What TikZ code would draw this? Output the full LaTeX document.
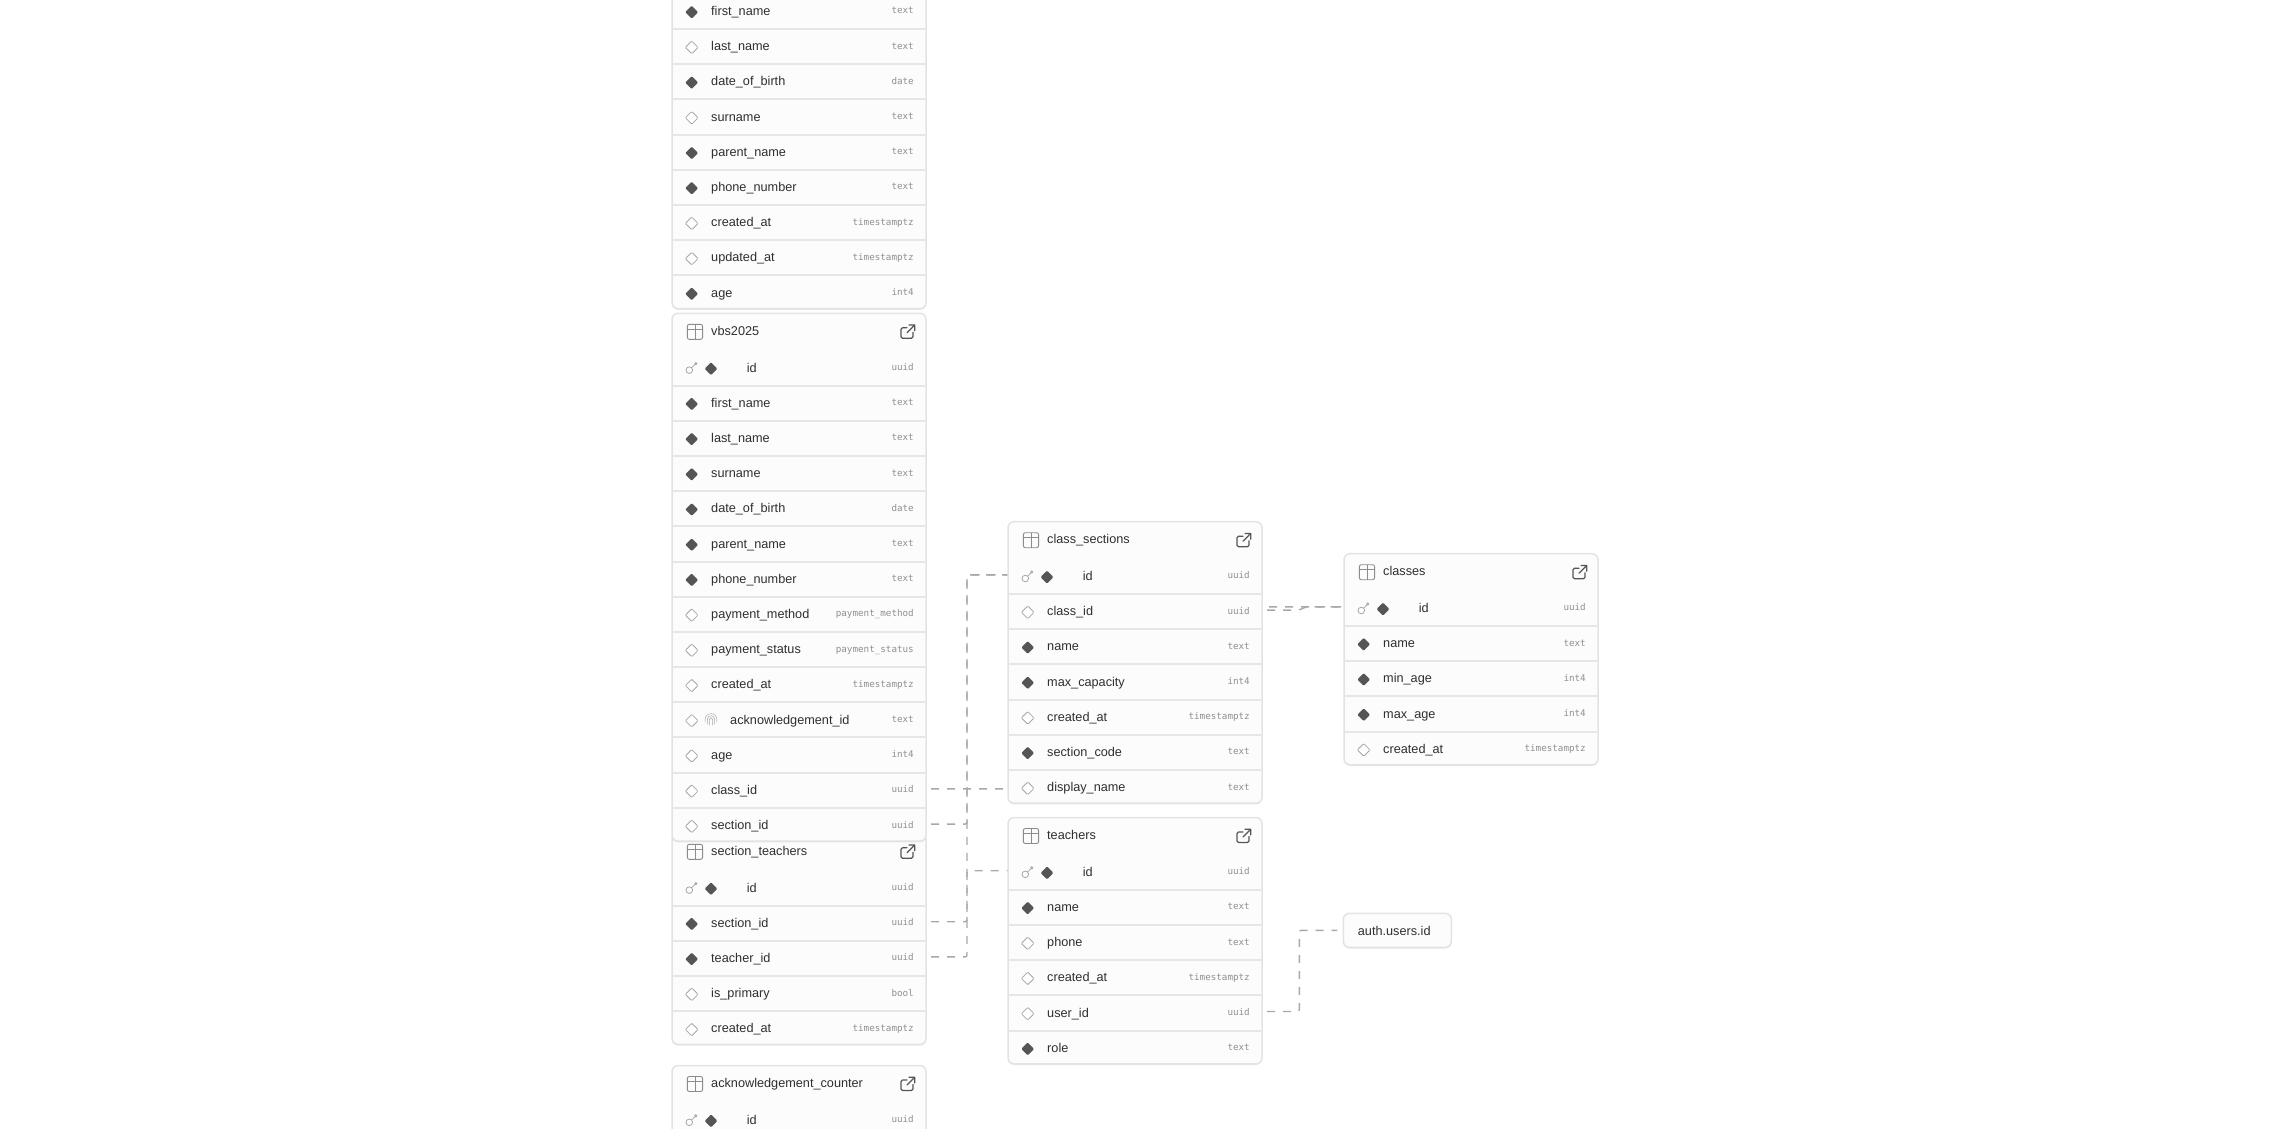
\documentclass[tikz,border=0pt]{standalone}
\usepackage{fontspec}
\setmainfont{Liberation Sans}
\newfontfamily\monoface{DejaVu Sans Mono}
\usetikzlibrary{shapes.geometric,shadows}
\pgfdeclarelayer{bg}
\pgfsetlayers{bg,main}
\definecolor{boxfill}{HTML}{FCFCFC}
\definecolor{boxline}{HTML}{E3E3E3}
\definecolor{rowline}{HTML}{E6E6E6}
\definecolor{labelink}{HTML}{2F2F2F}
\definecolor{typeink}{HTML}{8F8F8F}
\definecolor{diaink}{HTML}{555555}
\definecolor{diaopen}{HTML}{A6A6A6}
\definecolor{iconink}{HTML}{8C8C8C}
\definecolor{fkink}{HTML}{A8A8A8}
\catcode`\_=12
\tikzset{
  tablebox/.style={draw=boxline,line width=1.5pt,fill=boxfill,rounded corners=6pt,inner sep=0pt,outer sep=0pt,minimum width=254pt,
    general shadow={shadow xshift=0pt,shadow yshift=-1.2pt,fill=black,opacity=.09}},
  rowanchor/.style={inner sep=0pt,outer sep=0pt,minimum width=254pt,minimum height=35.2pt},
  rowsep/.style={draw=rowline,line width=1.6pt},
  collabel/.style={inner sep=0pt,text=labelink,font=\fontsize{12.7}{15}\selectfont,anchor=base west},
  coltype/.style={inner sep=0pt,text=typeink,font=\monoface\fontsize{9.25}{11}\selectfont,anchor=base east},
  diafull/.style={diamond,aspect=1,minimum width=13pt,minimum height=13pt,inner sep=0pt,fill=diaink,rounded corners=1pt},
  diahollow/.style={diamond,aspect=1,minimum width=13pt,minimum height=13pt,inner sep=0pt,draw=diaopen,line width=.8pt,fill=white,rounded corners=1pt},
  iconline/.style={draw=iconink,line width=.9pt},
  exportline/.style={draw=diaink,line width=1.2pt,line cap=round,line join=round},
  fk/.style={draw=fkink,line width=1.4pt,dash pattern=on 8pt off 8pt,dash phase=11pt,rounded corners=2pt}
}
\newcommand\dbtable[6]{%
  \pgfmathsetmacro\boxh{37+35.2*(#5-1)+33.3}%
  \node[tablebox,anchor=north west,minimum height=\boxh pt] (#1) at (#2,#3) {};
  \if\relax\detokenize{#4}\relax\else
    \node[collabel] (#1-title) at ({#2+39},{#3+22}) {#4};
    \draw[iconline,rounded corners=2pt,shift={({#2+15.3},{#3+11})}] (0,0) rectangle (15.3,15);
    \draw[iconline,shift={({#2+15.3},{#3+11})}] (0,5) -- (15.3,5) (7.7,0) -- (7.7,15);
    \draw[exportline,shift={({#2+229},{#3+11})},rounded corners=1.5pt] (6,3.5) -- (0,3.5) -- (0,14) -- (12,14) -- (12,8);
    \draw[exportline,shift={({#2+229},{#3+11})}] (6,8.5) -- (13.7,.7) (8,.7) -- (13.7,.7) -- (13.7,6.5);
  \fi
  \foreach \cn/\ct/\ck [count=\i] in {#6}{%
    \pgfmathsetmacro\cy{#3+37+35.2*(\i-1)+17.6}%
    \pgfmathsetmacro\dx{#2+19.7}%
    \pgfmathsetmacro\lx{#2+39}%
    \ifcase\ck\relax
      \node[diahollow] (#1-\cn-mark) at (\dx,{\cy+.8}) {};
    \or
      \node[diafull] (#1-\cn-mark) at (\dx,{\cy+.8}) {};
    \or
      \node[diafull] (#1-\cn-mark) at ({#2+39},{\cy+.8}) {};
      \pgfmathsetmacro\lx{#2+74.7}%
      \draw[draw=diaopen,line width=.8pt,shift={({#2+17.3},{\cy+2.2})}] (0,0) circle (3.3) (2.3,-2.3) -- (5.6,-5.6) (6.5,-6.5) circle (1.1);
    \or
      \node[diahollow] (#1-\cn-mark) at (\dx,{\cy+.8}) {};
      \pgfmathsetmacro\lx{#2+58}%
      \draw[draw=diaopen,line width=.5pt,shift={({#2+39},{\cy-.5})}]
        (-5.8,3) -- (-5.8,0) arc[start angle=180,end angle=360,radius=5.8] -- (5.8,3)
        (-3.7,5) -- (-3.7,0) arc[start angle=180,end angle=360,radius=3.7] -- (3.7,5)
        (-1.7,6) -- (-1.7,0) arc[start angle=180,end angle=360,radius=1.7] -- (1.7,6);
    \fi
    \node[rowanchor] (#1-\cn) at ({#2+127},{\cy-1.4}) {};
    \node[collabel] (#1-\cn-name) at (\lx,{\cy+4.1}) {\cn};
    \node[coltype] (#1-\cn-type) at ({#2+242},{\cy+2.5}) {\ct};
    \ifnum\i<#5\relax
      \pgfmathsetmacro\sy{round(\cy+17.6)}%
      \draw[rowsep] ({#2+1},\sy) -- ({#2+253},\sy);
    \fi
  }%
}
\begin{document}
\begin{tikzpicture}[x=1pt,y=-1pt]
\clip (0,0) rectangle (2270,1128);
\dbtable{base}{672}{-43.2}{}{9}{first_name/text/1,last_name/text/0,date_of_birth/date/1,surname/text/0,parent_name/text/1,phone_number/text/1,created_at/timestamptz/0,updated_at/timestamptz/0,age/int4/1}
\dbtable{st}{672}{833.3}{section_teachers}{5}{id/uuid/2,section_id/uuid/1,teacher_id/uuid/1,is_primary/bool/0,created_at/timestamptz/0}
\dbtable{vbs}{672}{313.3}{vbs2025}{14}{id/uuid/2,first_name/text/1,last_name/text/1,surname/text/1,date_of_birth/date/1,parent_name/text/1,phone_number/text/1,payment_method/payment_method/0,payment_status/payment_status/0,created_at/timestamptz/0,acknowledgement_id/text/3,age/int4/0,class_id/uuid/0,section_id/uuid/0}
\dbtable{ack}{672}{1065.5}{acknowledgement_counter}{2}{id/uuid/2}
\dbtable{cs}{1008}{521.7}{class_sections}{7}{id/uuid/2,class_id/uuid/0,name/text/1,max_capacity/int4/1,created_at/timestamptz/0,section_code/text/1,display_name/text/0}
\dbtable{tch}{1008}{817.5}{teachers}{6}{id/uuid/2,name/text/1,phone/text/0,created_at/timestamptz/0,user_id/uuid/0,role/text/1}
\dbtable{cls}{1344}{553.7}{classes}{5}{id/uuid/2,name/text/1,min_age/int4/1,max_age/int4/1,created_at/timestamptz/0}
\node[tablebox,anchor=north west,minimum width=108pt,minimum height=34pt] (auth) at (1343.3,913.3) {};
\node[collabel] (auth-name) at (1357.7,935) {auth.users.id};
\coordinate (bus) at (967,0);
\coordinate (hide) at (1135,0);
\coordinate (hideb) at (1150,0);
\coordinate (mergea) at (1299,0);
\coordinate (mergeb) at (1306,0);
\coordinate (usr) at (1299.3,0);
\begin{pgfonlayer}{bg}
\draw[fk] (vbs-section_id.east) -- (vbs-section_id.east -| bus) -- (cs-id.west -| bus) -- (cs-id.west);
\draw[fk] (st-section_id.east) -- (st-section_id.east -| bus) -- (cs-id.west -| bus) -- (cs-id.west);
\draw[fk] (st-teacher_id.east) -- (st-teacher_id.east -| bus) -- (tch-id.west -| bus) -- (tch-id.west);
\draw[fk] (vbs-class_id.east) -- (vbs-class_id.east -| hide) -- ([yshift=5.85pt]cls-id.west -| hide) -- ([yshift=5.85pt]cls-id.west -| hideb) -- (cls-id.west -| hideb) -- (cls-id.west);
\draw[fk] (cs-class_id.east) -- (cs-class_id.east -| mergea) -- (cls-id.west -| mergeb) -- (cls-id.west);
\draw[fk,shorten >=6pt] (tch-user_id.east) -- (tch-user_id.east -| usr) -- (auth.west -| usr) -- (auth.west);
\end{pgfonlayer}
\end{tikzpicture}
\end{document}
